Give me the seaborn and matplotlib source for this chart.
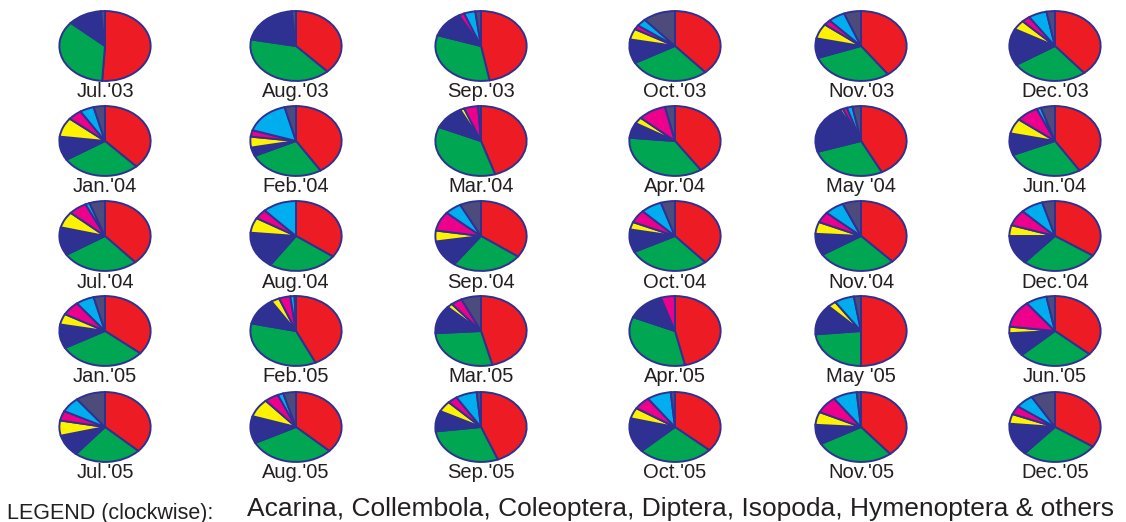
import matplotlib
matplotlib.use("Agg")
import matplotlib.pyplot as plt
import seaborn as sns

# Monthly samples, Jul. 2003 – Dec. 2005
months = ["Jul.'03", "Aug.'03", "Sep.'03", "Oct.'03", "Nov.'03", "Dec.'03",
          "Jan.'04", "Feb.'04", "Mar.'04", "Apr.'04", "May '04", "Jun.'04",
          "Jul.'04", "Aug.'04", "Sep.'04", "Oct.'04", "Nov.'04", "Dec.'04",
          "Jan.'05", "Feb.'05", "Mar.'05", "Apr.'05", "May '05", "Jun.'05",
          "Jul.'05", "Aug.'05", "Sep.'05", "Oct.'05", "Nov.'05", "Dec.'05"]

# Relative abundance (%) of each group per month
acarina = [51, 38, 47, 38.5, 40, 39, 38, 41, 45, 40.5, 42.5, 41, 38.5, 35, 35,
           38.5, 38, 34.5, 36, 43, 46, 46.5, 50, 36.5, 37, 37, 44, 36.5, 39, 34.5]
collembola = [35.5, 40, 33, 28.5, 29.5, 27, 28, 27, 36.5, 36, 27.5, 27.5, 27.5, 24.5, 25,
              29, 28, 27, 31, 35.5, 28, 35, 23.5, 26.5, 24, 30.5, 29, 26.5, 28, 27]
coleoptera = [12, 20.5, 12, 11, 9, 17, 11, 4, 11, 7, 22.5, 10, 13, 17, 12.5,
              10.5, 10, 13.5, 11, 12.5, 13, 13.5, 14, 11, 10, 12.5, 9.5, 16, 9, 15]
diptera = [0, 0, 0, 5, 7, 4.5, 9, 5, 1.5, 3, 1, 7, 7.5, 7, 5,
           3.5, 5.5, 5, 5, 3, 2, 0, 3, 3, 7, 8.5, 5, 5, 6, 4.5]
isopoda = [0, 0, 2, 2, 2.5, 3, 5, 3, 5, 10, 1.5, 8, 6.5, 4.5, 9,
           6, 5, 7.5, 6.5, 4, 4, 5, 0, 12.5, 4.5, 5, 3.5, 6, 8, 4]
hymenoptera = [0, 0, 4, 3.5, 6, 6.5, 5, 16, 0, 0, 2, 1.5, 1.5, 12, 6,
               7.5, 7, 8, 6.5, 1.5, 0, 0, 7, 7.5, 7, 2, 7.5, 8.5, 8.5, 6.5]
others = [1.5, 1.5, 2, 11.5, 6, 3, 4, 4, 1, 3.5, 3, 5, 5.5, 0, 7.5,
          5, 6.5, 4.5, 4, 0.5, 7, 0, 2.5, 3, 10.5, 4.5, 1.5, 1.5, 1.5, 8.5]

groups = [acarina, collembola, coleoptera, diptera, isopoda, hymenoptera, others]
palette = sns.color_palette(["#ED1C24", "#00A651", "#2E3192", "#FFF200",
                             "#EC008C", "#00AEEF", "#4D4B7C"])
outline = "#2E3192"

sns.set_theme(style="white")
plt.rcParams["font.family"] = ["Liberation Sans", "DejaVu Sans"]

W, H = 1126, 522
fig = plt.figure(figsize=(W / 100, H / 100), dpi=100)
fig.patch.set_facecolor("white")

col_x = [105, 296, 481, 675, 861, 1055]
row_y = [46, 141, 236, 331, 427]
pie_w, pie_h = 94, 72
label_dy = 46

for i, month in enumerate(months):
    r, c = divmod(i, 6)
    cx, cy = col_x[c], row_y[r]
    ax = fig.add_axes([(cx - pie_w / 2) / W, 1 - (cy + pie_h / 2) / H,
                       pie_w / W, pie_h / H])
    vals = [g[i] for g in groups]
    keep = [k for k, v in enumerate(vals) if v > 0]
    ax.pie([vals[k] for k in keep], colors=[palette[k] for k in keep],
           startangle=90, counterclock=False,
           wedgeprops=dict(edgecolor=outline, linewidth=1.4))
    ax.set_aspect("auto")
    ax.set_xlim(-1.03, 1.03)
    ax.set_ylim(-1.03, 1.03)
    ax.axis("off")
    fig.text(cx / W, 1 - (cy + label_dy) / H, month, ha="center", va="center",
             fontsize=14.5, color="#231F20")

fig.text(7 / W, 1 - 513 / H, "LEGEND (clockwise):", ha="left", va="center",
         fontsize=15.5, color="#231F20")
fig.text(247 / W, 1 - 509 / H,
         "Acarina, Collembola, Coleoptera, Diptera, Isopoda, Hymenoptera & others",
         ha="left", va="center", fontsize=19, color="#231F20")

fig.savefig("out.png", dpi=100, facecolor="white")
